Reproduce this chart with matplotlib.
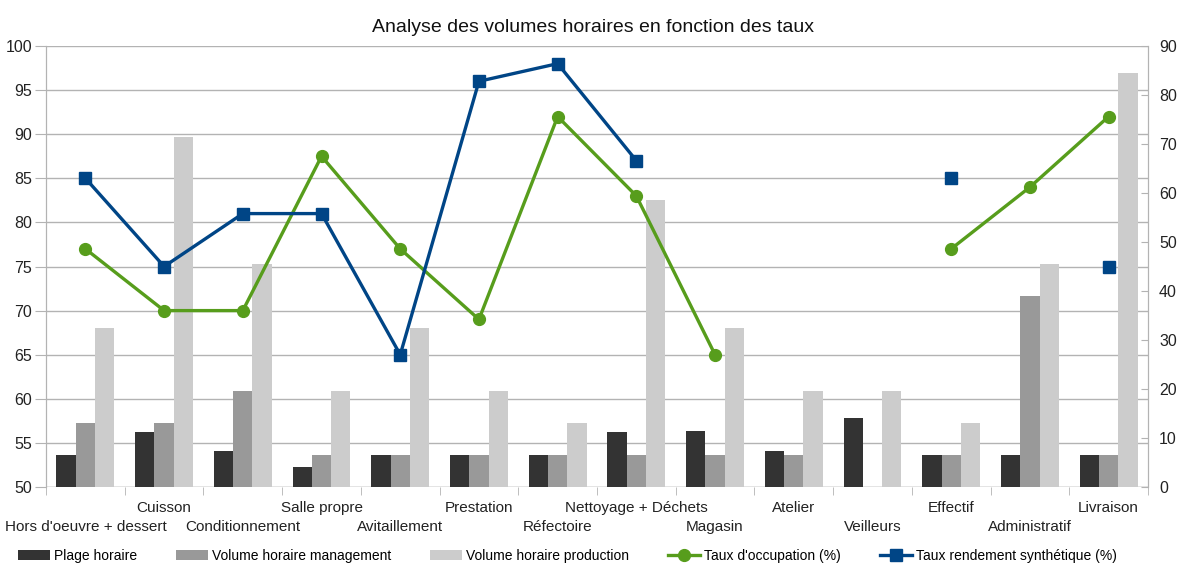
import numpy as np
import matplotlib
matplotlib.use("Agg")
import matplotlib.pyplot as plt
from matplotlib.ticker import MultipleLocator

plt.rcParams['font.family'] = ['Liberation Sans', 'DejaVu Sans']

categories = ["Hors d'oeuvre + dessert", "Cuisson", "Conditionnement", "Salle propre",
              "Avitaillement", "Prestation", "Réfectoire", "Nettoyage + Déchets",
              "Magasin", "Atelier", "Veilleurs", "Effectif", "Administratif", "Livraison"]

# volumes (axe de droite)
plage_horaire = [6.5, 11.25, 7.25, 4, 6.5, 6.5, 6.5, 11.25, 11.5, 7.25, 14, 6.5, 6.5, 6.5]
volume_management = [13, 13, 19.5, 6.5, 6.5, 6.5, 6.5, 6.5, 6.5, 6.5, 0, 6.5, 39, 6.5]
volume_production = [32.5, 71.5, 45.5, 19.5, 32.5, 19.5, 13, 58.5, 32.5, 19.5, 19.5, 13, 45.5, 84.5]

# taux (axe de gauche)
taux_occupation = [77, 70, 70, 87.5, 77, 69, 92, 83, 65, np.nan, np.nan, 77, 84, 92]
taux_rendement = [85, 75, 81, 81, 65, 96, 98, 87, np.nan, np.nan, np.nan, 85, np.nan, 75]

c_plage = '#333333'
c_mgmt = '#999999'
c_prod = '#cccccc'
c_green = '#579d1c'
c_blue = '#004586'
c_grid = '#b3b3b3'

fig = plt.figure(figsize=(11.87, 5.68), dpi=100)
ax = fig.add_axes([0.0388, 0.1426, 0.9283, 0.7764])
axl = ax.twinx()
ax.yaxis.tick_right()
axl.yaxis.tick_left()

x = np.arange(len(categories))
w = 0.245

ax.set_ylim(0, 90)
axl.set_ylim(50, 100)
ax.set_xlim(-0.5, len(categories) - 0.5)

# grille alignée sur l'axe de gauche, dessinée sous les barres
for v in range(50, 101, 5):
    ax.axhline((v - 50) * 90 / 50, color=c_grid, lw=1, zorder=0)

ax.bar(x - w, plage_horaire, w, color=c_plage, zorder=2, label='Plage horaire')
ax.bar(x, volume_management, w, color=c_mgmt, zorder=2, label='Volume horaire management')
ax.bar(x + w, volume_production, w, color=c_prod, zorder=2, label='Volume horaire production')

axl.plot(x, taux_occupation, color=c_green, lw=2.4, marker='o', ms=8.5,
         label="Taux d'occupation (%)")
axl.plot(x, taux_rendement, color=c_blue, lw=2.4, marker='s', ms=8,
         label='Taux rendement synthétique (%)')

for a in (ax, axl):
    for s in ('top', 'bottom'):
        a.spines[s].set_visible(False)
    a.spines['left'].set_color(c_grid)
    a.spines['right'].set_color(c_grid)

ax.yaxis.set_major_locator(MultipleLocator(10))
ax.tick_params(axis='y', which='major', direction='in', length=5, color=c_grid,
               labelsize=11.5, labelcolor='#222222', pad=8)
axl.yaxis.set_major_locator(MultipleLocator(5))
axl.tick_params(axis='y', direction='out', length=8, color=c_grid,
                labelsize=11.5, labelcolor='#222222', pad=2)

# libellés sur deux rangées alternées
ax.set_xticks(x)
ax.set_xticklabels(categories, fontsize=11, color='#222222')
ax.tick_params(axis='x', which='major', length=0)
for i, t in enumerate(ax.xaxis.get_major_ticks()):
    t.set_pad(10 if i % 2 else 24)
ax.set_xticks(np.arange(-0.5, len(categories), 1), minor=True)
ax.tick_params(axis='x', which='minor', length=6, color=c_grid)
ax.axhline(0, color=c_grid, lw=1, zorder=1)

fig.text(0.5, 1 - 27 / 568, 'Analyse des volumes horaires en fonction des taux',
         ha='center', va='center', fontsize=14, color='#111111')

h1, l1 = ax.get_legend_handles_labels()
h2, l2 = axl.get_legend_handles_labels()
fig.legend(h1 + h2, l1 + l2, loc='center', bbox_to_anchor=(0.478, 1 - 556 / 568),
           ncol=5, frameon=False, fontsize=10, handlelength=2.3, handleheight=0.8,
           columnspacing=2.8, handletextpad=0.3)

fig.savefig('out.png', dpi=100)
